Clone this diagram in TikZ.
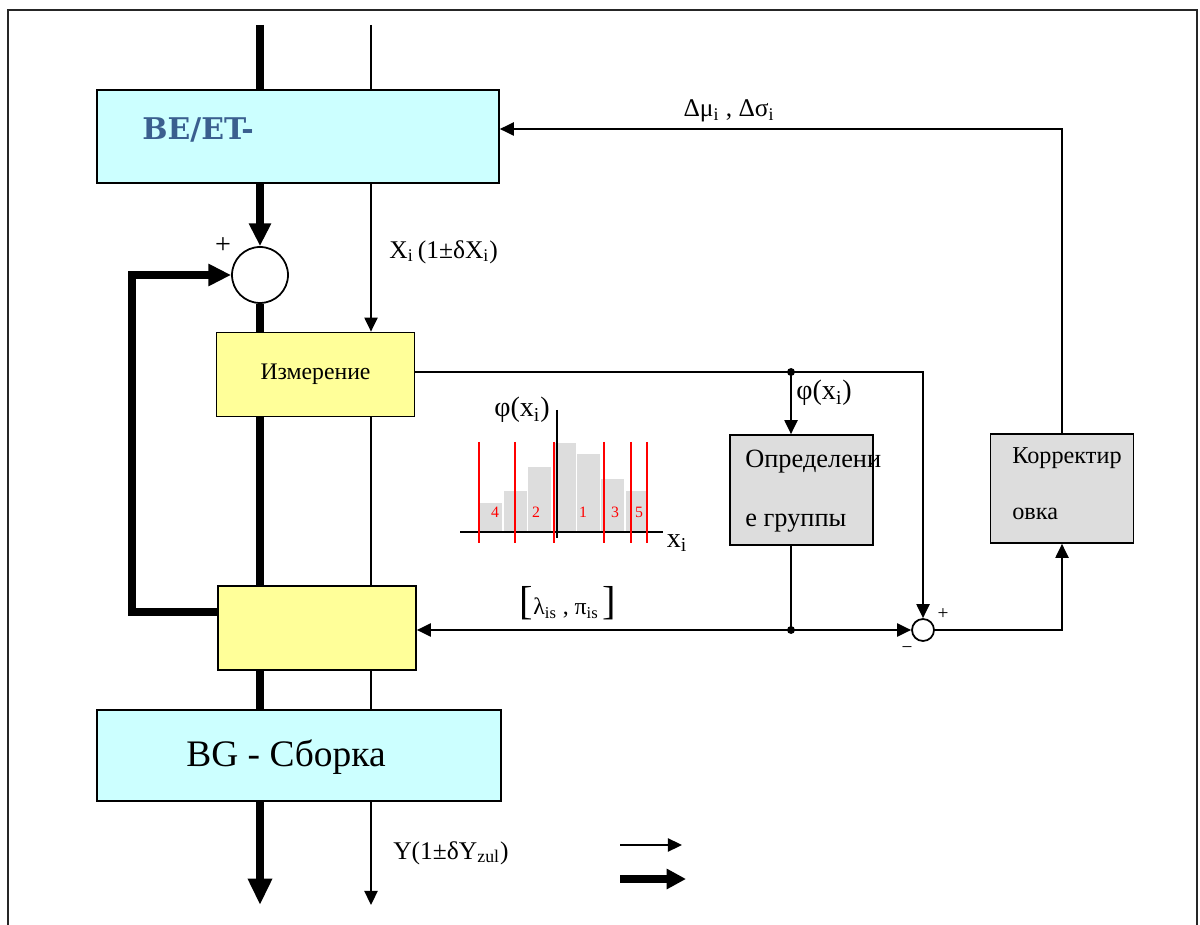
\documentclass[tikz,border=0pt]{standalone}
\usepackage{fontspec}
\setmainfont{Liberation Serif}
\newfontfamily\befont{DejaVu Serif}
\usetikzlibrary{arrows.meta}
\definecolor{boxcyan}{HTML}{CCFFFF}
\definecolor{boxyellow}{HTML}{FFFF99}
\definecolor{boxgray}{HTML}{DDDDDD}
\definecolor{betitle}{HTML}{3A5F8F}
\tikzset{
  frameS/.style  ={draw=black!85, line width=0.8pt},
  thinS/.style   ={line width=1pt},
  thinA/.style   ={line width=1pt, -{Triangle[length=8pt,width=7.5pt]}},
  thickS/.style  ={line width=4.3pt},
  thickA/.style  ={line width=4.3pt, -{Triangle[length=13pt,width=12pt]}},
  cyanbox/.style ={draw=black, line width=1pt, fill=boxcyan},
  yelbox/.style  ={draw=black, line width=1pt, fill=boxyellow},
  graybox/.style ={draw=black, line width=1pt, fill=boxgray},
  summer/.style  ={circle, draw=black, line width=1pt, fill=white, inner sep=0pt},
  junction/.style={circle, fill=black, minimum size=4.5pt, inner sep=0pt},
  lbl/.style     ={font=\fontsize{14.5}{17}\selectfont, inner sep=0pt},
  bar/.style     ={fill=boxgray, draw=none},
  grpline/.style ={red, line width=0.8pt},
  grpnum/.style  ={red, font=\fontsize{9}{10}\selectfont, inner sep=0pt},
}

\begin{document}
\begin{tikzpicture}[x=0.02cm, y=-0.02cm]
  \useasboundingbox (0,0) rectangle (1200,925);
  \draw[frameS] (8,925) -- (8,10) -- (1197,10) -- (1197,925);
  % main line blocks
  \node[cyanbox, minimum width=8.04cm, minimum height=1.86cm] (be) at (298,136.5) {};
  \node[text=betitle, font=\befont\bfseries\fontsize{17}{20}\selectfont, anchor=west, inner sep=0pt] (betxt) at (142,130) {BE/ET-};
  \node[summer, minimum size=1.12cm] (sum) at (260,275) {};
  \node[yelbox, minimum width=3.96cm, minimum height=1.68cm, font=\fontsize{13.5}{15}\selectfont] (meas) at (315.5,374.5) {Измерение};
  \node[yelbox, minimum width=3.96cm, minimum height=1.68cm] (sel) at (317,628) {};
  \node[cyanbox, minimum width=8.08cm, minimum height=1.82cm] (bg) at (299,755.5) {};
  \node[font=\fontsize{21.3}{24}\selectfont, inner sep=0pt] (bgtxt) at (286,757) {BG - Сборка};
  % side blocks
  \node[graybox, minimum width=2.86cm, minimum height=2.2cm] (grp) at (801.5,490) {};
  \node[lbl, font=\fontsize{15}{17}\selectfont, anchor=west] (grptxt1) at (745,462) {Определени};
  \node[lbl, font=\fontsize{15}{17}\selectfont, anchor=west] (grptxt2) at (745,523) {е группы};
  \node[graybox, minimum width=2.86cm, minimum height=2.18cm] (corr) at (1062,488.5) {};
  \node[lbl, font=\fontsize{13.8}{16}\selectfont, anchor=west] (corrtxt1) at (1012,458) {Корректир};
  \node[lbl, font=\fontsize{13.8}{16}\selectfont, anchor=west] (corrtxt2) at (1012,514) {овка};
  \node[summer, minimum size=0.44cm] (dif) at (923,630) {};

  % material flow
  \coordinate (inT) at (260,25);
  \coordinate (inS) at (371,25);
  \coordinate (outT) at (260,905);
  \coordinate (outS) at (371,905);
  \draw[thickS] (inT) -- (inT |- be.north);
  \draw[thinS] (inS) -- (inS |- be.north);
  \draw[thickA] (inT |- be.south) -- (sum.north);
  \draw[thickS] (sum.south) -- (sum.south |- meas.north);
  \draw[thinA] (inS |- be.south) -- (inS |- meas.north);
  \draw[thickS] (inT |- meas.south) -- (inT |- sel.north);
  \draw[thinS] (inS |- meas.south) -- (inS |- sel.north);
  \draw[thickS] (inT |- sel.south) -- (inT |- bg.north);
  \draw[thinS] (inS |- sel.south) -- (inS |- bg.north);
  \draw[line width=4.3pt, -{Triangle[length=15pt,width=13pt]}] (inT |- bg.south) -- (outT);
  \draw[thinA] (inS |- bg.south) -- (outS);
  \draw[thickA] (sel.west |- 0,612) -- ++(-85,0) |- (sum.west);

  % information flow
  \coordinate (tap) at (791,372);
  \coordinate (join) at (791,630);
  \draw[thinS] (meas.east |- tap) -- (tap);
  \draw[thinA] (tap) -| (dif.north);
  \draw[thinA] (tap) -- (tap |- grp.north);
  \draw[thinS] (tap |- grp.south) -- (join);
  \draw[thinA] (join) -- (join -| sel.east);
  \draw[thinA] (join) -- (dif.west);
  \draw[thinA] (dif.east) -| (corr.south);
  \draw[thinA] (corr.north) |- (be.east |- 0,129);
  \node[junction] (tapdot) at (tap) {};
  \node[junction] (joindot) at (join) {};

  % labels
  \node[font=\fontsize{16}{18}\selectfont, inner sep=0pt] (plussum) at (223,246) {+};
  \node[lbl, anchor=west] (xlbl) at (389,252) {X\textsubscript{i}\,(1±δX\textsubscript{i})};
  \node[lbl, font=\fontsize{16}{18}\selectfont, anchor=west] (philbl) at (796,393) {φ(x\textsubscript{i})};
  \node[lbl] (dlbl) at (729,111) {Δμ\textsubscript{i} , Δσ\textsubscript{i}};
  \node[lbl, font=\fontsize{13.5}{16}\selectfont] (lplbl) at (568,603) {{\fontsize{23}{23}\selectfont[}λ\textsubscript{is} , π\textsubscript{is}\,{\fontsize{23}{23}\selectfont]}};
  \node[font=\fontsize{11}{13}\selectfont, inner sep=0pt] (plusdif) at (943,614) {+};
  \node[font=\fontsize{11}{13}\selectfont, inner sep=0pt] (minusdif) at (907,650) {−};
  \node[lbl, anchor=west] (ylbl) at (393,853) {Y(1±δY\textsubscript{zul})};

  % histogram
  \foreach \xa/\xb/\top in {480/502/503, 504/527/491, 528/551/467, 555/576/443,
                           577/600/454, 601/624/479, 626/647/491}
    \fill[bar] (\xa,531) rectangle (\xb,\top);
  \draw[thinS] (460,532) -- (663,532);
  \draw[thinS] (557,410) -- (557,538);
  \foreach \xr in {479,515,554,604,631,647}
    \draw[grpline] (\xr,442) -- (\xr,543);
  \node[grpnum] (g4) at (495,512) {4};
  \node[grpnum] (g2) at (536,512) {2};
  \node[grpnum] (g1) at (583,512) {1};
  \node[grpnum] (g3) at (615,512) {3};
  \node[grpnum] (g5) at (639,512) {5};
  \node[lbl, font=\fontsize{16}{18}\selectfont] (histphi) at (522,410) {φ(x\textsubscript{i})};
  \node[lbl, font=\fontsize{16}{18}\selectfont] (histx) at (677,543) {x\textsubscript{i}};

  % legend
  \coordinate (lgthin) at (620,845);
  \coordinate (lgthick) at (620,879);
  \draw[thinA] (lgthin) -- ++(62,0);
  \draw[line width=4.3pt, -{Triangle[length=11pt,width=11pt]}] (lgthick) -- ++(66,0);
\end{tikzpicture}
\end{document}
